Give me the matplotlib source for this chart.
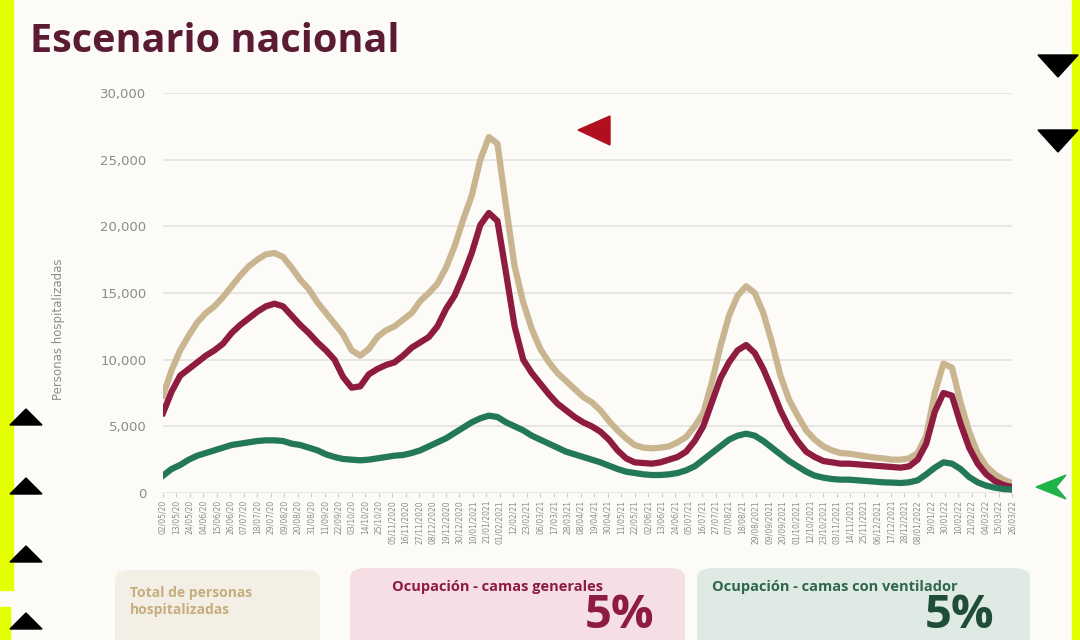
import numpy as np
import pandas as pd
import matplotlib
matplotlib.use("Agg")
import matplotlib.pyplot as plt
from matplotlib.patches import Polygon, FancyBboxPatch, Rectangle
from matplotlib.ticker import FuncFormatter

# weekly readings, 02/05/2020 .. 26/03/2022
fechas = pd.date_range("2020-05-02", periods=100, freq="7D")

total = [7300, 9200, 10700, 11800, 12800, 13500, 14000, 14700, 15500, 16300,
         17000, 17500, 17900, 18000, 17700, 16900, 16000, 15300, 14300, 13500,
         12700, 11900, 10700, 10300, 10800, 11700, 12200, 12500, 13000, 13500,
         14400, 15000, 15700, 16900, 18500, 20500, 22300, 25000, 26700, 26200,
         21500, 17000, 14300, 12300, 10800, 9800, 9000, 8400, 7800, 7200,
         6800, 6200, 5400, 4700, 4100, 3600, 3400, 3350, 3400, 3500,
         3800, 4200, 5000, 6000, 8300, 11000, 13300, 14800, 15500, 15000,
         13500, 11300, 8800, 7000, 5800, 4700, 4000, 3500, 3200, 3000,
         2950, 2850, 2750, 2650, 2600, 2500, 2500, 2600, 3000, 4300,
         7500, 9700, 9400, 6800, 4600, 3000, 2000, 1400, 1000, 750]

generales = [6000, 7600, 8800, 9300, 9800, 10300, 10700, 11200, 12000, 12600,
             13100, 13600, 14000, 14200, 14000, 13300, 12600, 12000, 11300, 10700,
             10000, 8700, 7900, 8000, 8900, 9300, 9600, 9800, 10300, 10900,
             11300, 11700, 12500, 13800, 14800, 16300, 18000, 20100, 21000, 20400,
             16500, 12500, 10000, 9000, 8200, 7400, 6700, 6200, 5700, 5300,
             5000, 4600, 4000, 3200, 2600, 2300, 2250, 2200, 2300, 2500,
             2700, 3100, 3900, 5000, 6800, 8600, 9800, 10700, 11100, 10500,
             9300, 7800, 6200, 4900, 3900, 3100, 2700, 2400, 2300, 2200,
             2200, 2150, 2100, 2050, 2000, 1950, 1900, 2000, 2500, 3700,
             6100, 7500, 7300, 5200, 3400, 2200, 1400, 900, 600, 450]

ventilador = [1300, 1800, 2100, 2500, 2800, 3000, 3200, 3400, 3600, 3700,
              3800, 3900, 3950, 3950, 3900, 3700, 3600, 3400, 3200, 2900,
              2700, 2550, 2500, 2450, 2500, 2600, 2700, 2800, 2850, 3000,
              3200, 3500, 3800, 4100, 4500, 4900, 5300, 5600, 5800, 5700,
              5300, 5000, 4700, 4300, 4000, 3700, 3400, 3100, 2900, 2700,
              2500, 2300, 2050, 1800, 1600, 1500, 1400, 1350, 1350, 1400,
              1500, 1700, 2000, 2500, 3000, 3500, 4000, 4300, 4450, 4300,
              3900, 3400, 2900, 2400, 2000, 1600, 1300, 1150, 1050, 1000,
              1000, 950, 900, 850, 800, 780, 750, 800, 950, 1400,
              1900, 2300, 2200, 1800, 1200, 800, 550, 400, 300, 250]

# x tick labels every 11 days
ticks = pd.date_range("2020-05-02", periods=64, freq="11D")
largas = set(range(17, 26)) | set(range(44, 57))
tick_labels = [t.strftime("%d/%m/%Y") if i in largas else t.strftime("%d/%m/%y")
               for i, t in enumerate(ticks)]

c_total = "#c9b58f"
c_gen = "#8e1b40"
c_vent = "#24785a"
gris = "#8c8c8c"

W, H = 1080, 640
fig = plt.figure(figsize=(W / 100, H / 100), dpi=100, facecolor="#fcfbf8")


def px(x, y):
    return (x / W, 1 - y / H)


def tri(pts, color):
    fig.add_artist(Polygon([px(*p) for p in pts], closed=True, color=color,
                           transform=fig.transFigure, zorder=20))


ax = fig.add_axes([163 / W, 1 - 493 / H, (1012 - 163) / W, 400 / H])
ax.set_facecolor("none")
ax.plot(fechas, total, color=c_total, lw=4.5, solid_joinstyle="round")
ax.plot(fechas, generales, color=c_gen, lw=4.5, solid_joinstyle="round")
ax.plot(fechas, ventilador, color=c_vent, lw=4.5, solid_joinstyle="round")

ax.set_ylim(0, 30000)
ax.set_xlim(fechas[0], fechas[-1])
ax.set_yticks(range(0, 30001, 5000))
ax.yaxis.set_major_formatter(FuncFormatter(lambda v, p: f"{int(v):,}"))
ax.grid(axis="y", color="#e2e2e2", lw=1.2)
ax.set_axisbelow(True)
for s in ax.spines.values():
    s.set_visible(False)
ax.tick_params(axis="y", length=0, pad=12, labelsize=9.5, labelcolor=gris)
ax.set_xticks(ticks)
ax.set_xticklabels(tick_labels, rotation=90, fontsize=5.5, color=gris)
ax.tick_params(axis="x", length=3, color="#cccccc", pad=2)
ax.set_ylabel("Personas hospitalizadas", color=gris, fontsize=8.5)
ax.yaxis.set_label_coords(-0.116, 0.41)

fig.text(30 / W, 1 - 41 / H, "Escenario nacional", fontsize=28.5, fontweight="bold",
         color="#5b1b33", family="Open Sans", va="center", ha="left")

# bottom cards
cards = [(115, 570, 205, 90, "#f4efe4"), (350, 568, 335, 90, "#f5dfe5"),
         (697, 568, 333, 90, "#dfeae4")]
for x0, y0, w, h, fc in cards:
    fig.add_artist(FancyBboxPatch(px(x0, y0 + h), w / W, h / H,
                                  boxstyle="round,pad=0,rounding_size=0.015",
                                  transform=fig.transFigure, fc=fc, ec="none", zorder=5))
fig.text(*px(130, 586), "Total de personas\nhospitalizadas", fontsize=10,
         fontweight="bold", color="#c6ad80", va="top", ha="left",
         family="Open Sans", linespacing=1.3, zorder=6)
fig.text(*px(392, 587), "Ocupación - camas generales", fontsize=10.5,
         fontweight="bold", color="#8e1b40", va="center", family="Open Sans", zorder=6)
fig.text(*px(712, 587), "Ocupación - camas con ventilador", fontsize=10.5,
         fontweight="bold", color="#2f6650", va="center", family="Open Sans", zorder=6)
fig.text(*px(585, 639), "5%", fontsize=34, fontweight="bold", color="#8e1b40",
         va="bottom", ha="left", family="Open Sans", zorder=6)
fig.text(*px(925, 639), "5%", fontsize=34, fontweight="bold", color="#1f4d3a",
         va="bottom", ha="left", family="Open Sans", zorder=6)

# yellow frame bits
amarillo = "#e4ff00"
fig.add_artist(Rectangle(px(0, 590), 13 / W, 590 / H, transform=fig.transFigure,
                         color=amarillo, zorder=15))
fig.add_artist(Rectangle(px(0, 640), 10 / W, 33 / H, transform=fig.transFigure,
                         color=amarillo, zorder=15))
fig.add_artist(Rectangle(px(1072, 640), 8 / W, 640 / H, transform=fig.transFigure,
                         color=amarillo, zorder=15))

# overlay markers
for cy in (65, 140):
    tri([(1038, cy - 10), (1078, cy - 10), (1058, cy + 12)], "black")
for cy in (418, 487, 555, 622):
    tri([(10, cy + 7), (42, cy + 7), (26, cy - 9)], "black")
tri([(578, 130), (610, 116), (610, 145)], "#b0101e")
tri([(1036, 487), (1066, 475), (1056, 487), (1066, 499)], "#1fb34a")

fig.savefig("out.png", dpi=100, facecolor=fig.get_facecolor())
